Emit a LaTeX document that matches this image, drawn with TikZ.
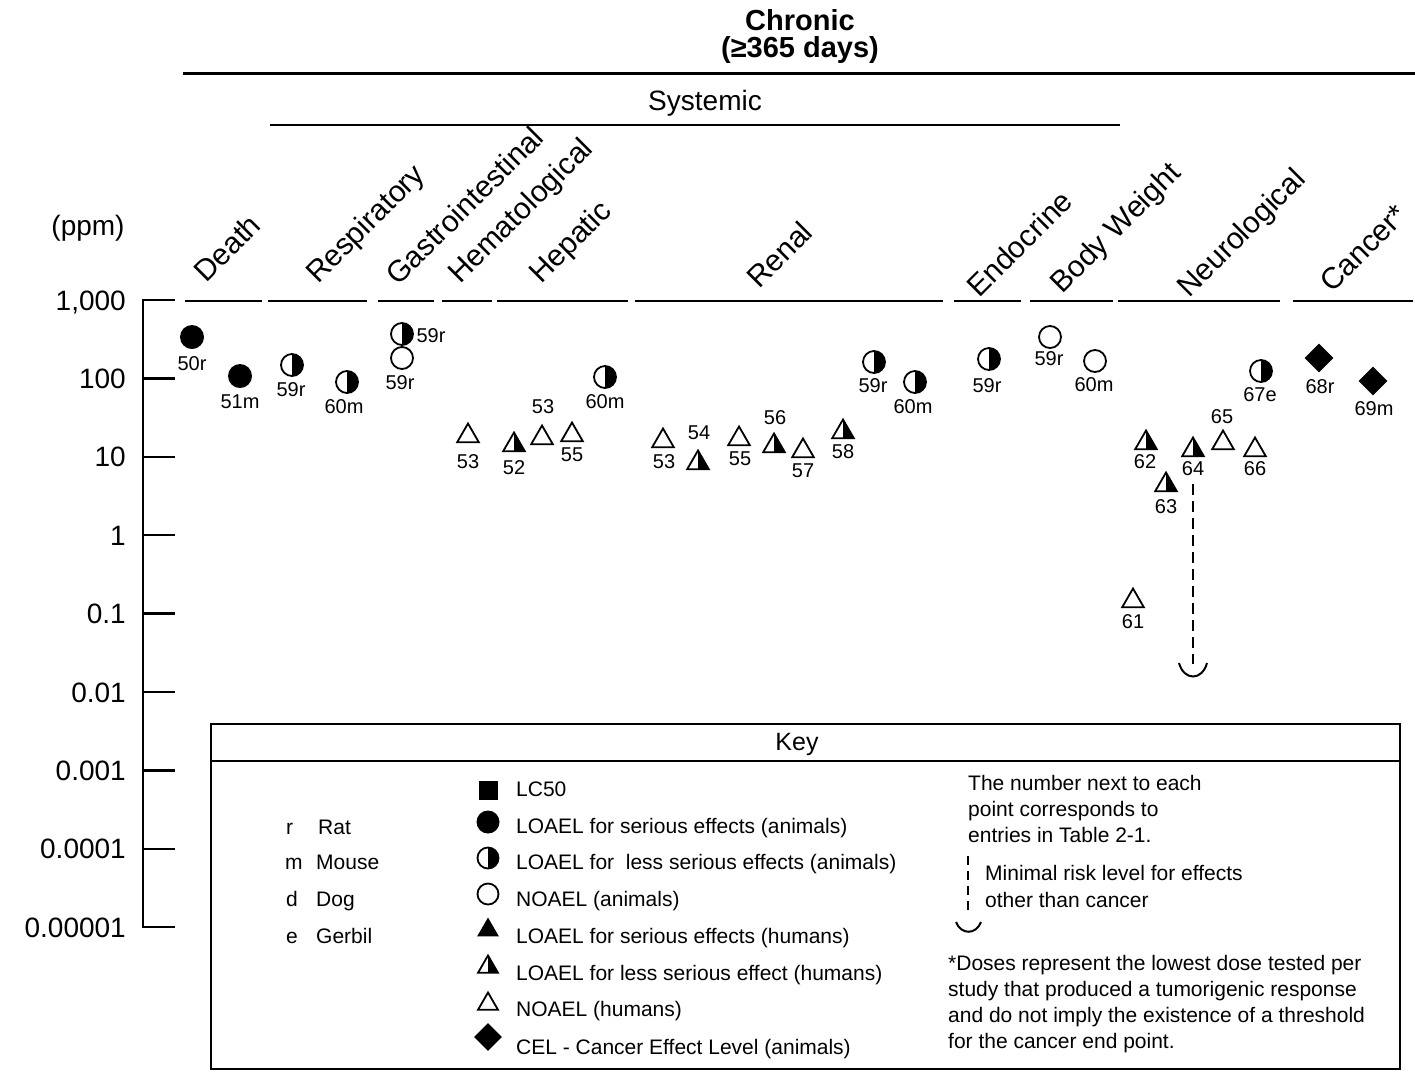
\documentclass[tikz,border=0pt]{standalone}
\usepackage{fontspec}
\setmainfont{Liberation Sans}
\usetikzlibrary{shapes.geometric}
\begin{document}
\begin{tikzpicture}[x=1pt,y=-1pt,
  every node/.style={inner sep=0pt},
  titletxt/.style={font=\fontsize{29}{32}\selectfont\bfseries},
  bigtxt/.style={font=\fontsize{28}{32}\selectfont},
  cattxt/.style={font=\fontsize{30}{34}\selectfont, rotate=45, anchor=base west},
  ticktxt/.style={font=\fontsize{28}{32}\selectfont, anchor=base east},
  lab/.style={font=\fontsize{20}{22}\selectfont},
  keytxt/.style={font=\fontsize{21}{24}\selectfont, anchor=base west},
  symline/.style={line width=1.8pt},
  fc/.style={circle, fill=black, minimum size=24pt},
  oc/.style={circle, draw, symline, fill=white, minimum size=22pt},
  hc/.style={oc, path picture={\fill[black] (path picture bounding box.north) rectangle (path picture bounding box.south east);}},
  ot/.style={regular polygon, regular polygon sides=3, draw, symline, minimum size=25pt, yshift=-3pt},
  ht/.style={ot, path picture={\fill[black] (path picture bounding box.north) rectangle (path picture bounding box.south east);}},
  ft/.style={regular polygon, regular polygon sides=3, fill=black, minimum size=27pt, yshift=-3pt},
  dm/.style={diamond, fill=black, minimum size=29pt},
  sq/.style={rectangle, fill=black, minimum size=19pt},
  axisline/.style={line width=2.4pt},
  segline/.style={line width=2.6pt},
  mrl/.style={line width=1.6pt, dash pattern=on 11pt off 6pt},
  cup/.style={line width=2pt},
]
\useasboundingbox (0,0) rectangle (1415,1072);

% ---- titles
\node[titletxt] (chronic) at (800,20) {Chronic};
\node[titletxt] (days) at (800,50) {(≥365 days)};
\draw[line width=3pt] (183,73) -- (1415,73);
\node[bigtxt] (systemic) at (705,103) {Systemic};
\draw[line width=2.5pt] (270,125) -- (1120,125);
\node[bigtxt] (ppm) at (88,228) {(ppm)};

% ---- category labels
\node[cattxt] (cDeath) at (206,284) {Death};
\node[cattxt] (cResp) at (318,285) {Respiratory};
\node[cattxt] (cGI) at (398,287) {Gastrointestinal};
\node[cattxt] (cHem) at (460,285) {Hematological};
\node[cattxt] (cHep) at (541,285) {Hepatic};
\node[cattxt] (cRen) at (759,290) {Renal};
\node[cattxt] (cEnd) at (979,299) {Endocrine};
\node[cattxt] (cBW) at (1062,295) {Body Weight};
\node[cattxt] (cNeu) at (1189,299) {Neurological};
\node[cattxt] (cCan) at (1332,294) {Cancer*};

% ---- category segments at 1,000
\foreach \a/\b in {185/262,268/367,378/434,442/492,497/628,635/943,954/1021,1030/1113,1118/1280,1293/1413}
  \draw[segline] (\a,301) -- (\b,301);

% ---- axis
\draw[axisline] (175,300) -- (143,300) -- (143,927) -- (175,927);
\foreach \yy in {378.4,456.8,535.2,613.6,692,770.4,848.8}
  \draw[axisline] (143,\yy) -- (175,\yy);
\node[ticktxt] (t3) at (126,310) {1,000};
\node[ticktxt] (t2) at (126,388.4) {100};
\node[ticktxt] (t1) at (126,466.8) {10};
\node[ticktxt] (t0) at (126,545.2) {1};
\node[ticktxt] (tm1) at (126,623.6) {0.1};
\node[ticktxt] (tm2) at (126,702) {0.01};
\node[ticktxt] (tm3) at (126,780.4) {0.001};
\node[ticktxt] (tm4) at (126,858.8) {0.0001};
\node[ticktxt] (tm5) at (126,937.2) {0.00001};

% ---- data points
\node[fc] (p50) at (192,337) {};   \node[lab] (l50) at (192,364) {50r};
\node[fc] (p51) at (240,376) {};   \node[lab] (l51) at (240,402) {51m};
\node[hc] (p59a) at (292,365) {};  \node[lab] (l59a) at (291,390) {59r};
\node[hc] (p60a) at (347,382) {};  \node[lab] (l60a) at (344,407) {60m};
\node[hc] (p59b) at (402,334) {};  \node[lab] (l59b) at (431,336) {59r};
\node[oc] (p59c) at (402,358) {};  \node[lab] (l59c) at (400,383) {59r};
\node[ot] (p53a) at (468,433) {};  \node[lab] (l53a) at (468,462) {53};
\node[ht] (p52) at (514,442) {};   \node[lab] (l52) at (514,468) {52};
\node[ot] (p53b) at (542,435) {};  \node[lab] (l53b) at (543,407) {53};
\node[ot] (p55a) at (572,432) {};  \node[lab] (l55a) at (572,455) {55};
\node[hc] (p60b) at (605,377) {};  \node[lab] (l60b) at (605,402) {60m};
\node[ot] (p53c) at (663,438) {};  \node[lab] (l53c) at (664,462) {53};
\node[ht] (p54) at (698,460) {};   \node[lab] (l54) at (699,433) {54};
\node[ot] (p55b) at (739,436) {};  \node[lab] (l55b) at (740,459) {55};
\node[ht] (p56) at (774,443) {};   \node[lab] (l56) at (775,418) {56};
\node[ot] (p57) at (803,448) {};   \node[lab] (l57) at (803,471) {57};
\node[ht] (p58) at (843,429) {};   \node[lab] (l58) at (843,452) {58};
\node[hc] (p59d) at (874,362) {};  \node[lab] (l59d) at (873,386) {59r};
\node[hc] (p60c) at (915,382) {};  \node[lab] (l60c) at (913,407) {60m};
\node[hc] (p59e) at (989,359) {};  \node[lab] (l59e) at (987,386) {59r};
\node[oc] (p59f) at (1050,337) {}; \node[lab] (l59f) at (1049,359) {59r};
\node[oc] (p60d) at (1095,361) {}; \node[lab] (l60d) at (1094,385) {60m};
\node[ht] (p62) at (1146,440) {};  \node[lab] (l62) at (1145,462) {62};
\node[ht] (p63) at (1166,482) {};  \node[lab] (l63) at (1166,507) {63};
\node[ht] (p64) at (1193,447) {};  \node[lab] (l64) at (1193,469) {64};
\node[ot] (p65) at (1223,440) {};  \node[lab] (l65) at (1222,417) {65};
\node[ot] (p66) at (1255,447) {};  \node[lab] (l66) at (1255,469) {66};
\node[ot] (p61) at (1133,598) {};  \node[lab] (l61) at (1133,622) {61};
\node[hc] (p67) at (1261,371) {};  \node[lab] (l67) at (1260,395) {67e};
\node[dm] (p68) at (1319,358) {};  \node[lab] (l68) at (1320,387) {68r};
\node[dm] (p69) at (1373,381) {};  \node[lab] (l69) at (1374,409) {69m};

% ---- minimal risk level
\coordinate (m1) at (1193,484);
\coordinate (m2) at (1193,664);
\draw[mrl] (m1) -- (m2);
\draw[cup] (1179,663) .. controls (1184,681) and (1202,681) .. (1207,663);

% ---- key
\draw[line width=1.8pt] (211,724) rectangle (1400,1069);
\draw[line width=1.5pt] (211,761) -- (1400,761);
\node[font=\fontsize{25}{28}\selectfont] (key) at (797,744) {Key};

\node[keytxt] (kr) at (286,834) {r};       \node[keytxt] (kRat) at (318,834) {Rat};
\node[keytxt] (km) at (285,869) {m};       \node[keytxt] (kMouse) at (316,869) {Mouse};
\node[keytxt] (kd) at (286,906) {d};       \node[keytxt] (kDog) at (316,906) {Dog};
\node[keytxt] (ke) at (286,943) {e};       \node[keytxt] (kGerbil) at (316,943) {Gerbil};

\node[sq] (s1) at (488,790) {};
\node[fc, minimum size=23pt] (s2) at (488,822) {};
\node[hc, minimum size=21pt] (s3) at (488,858) {};
\node[oc, minimum size=21pt] (s4) at (488,894) {};
\node[ft, minimum size=25pt] (s5) at (488,927) {};
\node[ht, minimum size=23pt] (s6) at (488,964) {};
\node[ot, minimum size=23pt] (s7) at (488,1001) {};
\node[dm, minimum size=28pt] (s8) at (488,1037) {};

\node[keytxt] (k1) at (516,796) {LC50};
\node[keytxt] (k2) at (516,833) {LOAEL for serious effects (animals)};
\node[keytxt] (k3) at (516,869) {LOAEL for\ \ less serious effects (animals)};
\node[keytxt] (k4) at (516,906) {NOAEL (animals)};
\node[keytxt] (k5) at (516,943) {LOAEL for serious effects (humans)};
\node[keytxt] (k6) at (516,980) {LOAEL for less serious effect (humans)};
\node[keytxt] (k7) at (516,1016) {NOAEL (humans)};
\node[keytxt] (k8) at (516,1054) {CEL - Cancer Effect Level (animals)};

\node[keytxt] (n1) at (968,790) {The number next to each};
\node[keytxt] (n2) at (968,816) {point corresponds to};
\node[keytxt] (n3) at (968,842) {entries in Table 2-1.};
\coordinate (km1) at (968,856);
\coordinate (km2) at (968,914);
\draw[line width=1.4pt, dash pattern=on 9pt off 6pt] (km1) -- (km2);
\draw[cup] (956,922) .. controls (961,935) and (976,935) .. (981,922);
\node[keytxt] (n4) at (985,880) {Minimal risk level for effects};
\node[keytxt] (n5) at (985,907) {other than cancer};
\node[keytxt] (f1) at (948,970) {*Doses represent the lowest dose tested per};
\node[keytxt] (f2) at (948,996) {study that produced a tumorigenic response};
\node[keytxt] (f3) at (948,1022) {and do not imply the existence of a threshold};
\node[keytxt] (f4) at (948,1048) {for the cancer end point.};
\end{tikzpicture}
\end{document}
